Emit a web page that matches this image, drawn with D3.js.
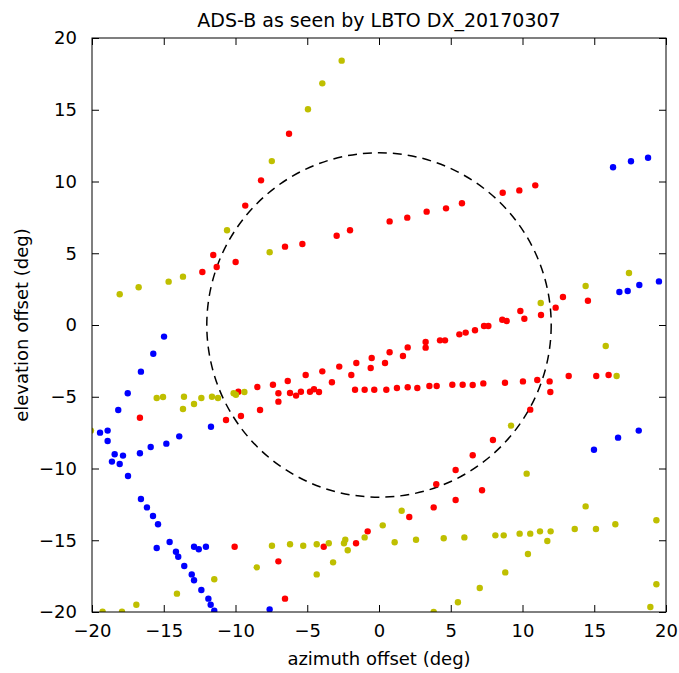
<!DOCTYPE html>
<html>
<head>
<meta charset="utf-8">
<script src="https://cdn.jsdelivr.net/npm/d3@7"></script>
<style>
  body { margin: 0; background: #fff; }
  text { font-family: "DejaVu Sans", sans-serif; fill: #000; }
</style>
</head>
<body>
<svg width="679" height="673"></svg>
<script>
// ADS-B positions, [azimuth offset, elevation offset] in deg
const redPts = [
  [-11.55,4.88],[-9.32,8.32],[-8.22,10.08],[-6.27,13.33],
  [-12.31,3.69],[-11.31,4.04],[-9.99,4.39],[-6.55,5.46],[-5.34,5.64],[-2.95,6.22],[-2.02,6.6],
  [0.74,7.22],[1.97,7.48],[3.32,7.9],[4.67,8.13],[5.78,8.48],[8.62,9.22],[9.78,9.38],[10.89,9.73],
  [-16.66,-6.46],[-10.66,-6.62],[-9.62,-6.34],[-8.29,-5.92],[-9.8,-4.65],[-8.48,-4.32],[-7.39,-4.16],
  [-7.01,-4.76],[-7.01,-5.34],[-6.36,-3.9],[-6.2,-4.74],[-5.78,-4.92],[-5.44,-4.65],[-5.11,-3.48],
  [-4.81,-4.65],[-4.53,-4.48],[-4.18,-4.67],[-3.95,-3.23],[-3.28,-3.99],[-2.77,-2.9],[-1.93,-3.48],
  [-1.58,-2.65],[-1.67,-4.51],[-1.0,-4.51],[-0.51,-2.3],[-0.58,-3.0],[-0.33,-4.51],[0.42,-2.65],
  [0.51,-4.51],[0.74,-1.9],[1.25,-4.39],[1.67,-2.16],[2.0,-1.56],[2.0,-4.34],[2.67,-4.39],
  [3.25,-1.18],[3.25,-1.58],[3.51,-4.25],[4.02,-4.25],[4.25,-1.07],[4.6,-1.07],[5.11,-4.16],
  [5.6,-0.65],[6.04,-0.53],[5.83,-4.16],[6.69,-0.37],[7.32,-0.07],[7.62,-0.07],[8.59,0.37],
  [8.9,0.28],[9.85,0.98],[10.13,0.44],[11.29,0.7],[12.31,1.21],[12.82,1.95],[14.56,1.69],
  [6.53,-4.18],[7.27,-4.07],[8.78,-4.02],[10.03,-3.93],[11.03,-3.83],[11.89,-3.93],[11.94,-4.67],
  [13.22,-3.55],[15.14,-3.55],[16.0,-3.48],
  [10.54,-5.9],[7.94,-8.01],[6.53,-9.08],[5.34,-10.1],[3.99,-11.1],[7.18,-11.52],[5.34,-12.2],
  [3.81,-12.71],[2.11,-13.38],[-0.79,-14.38],[-1.6,-15.21],[-3.85,-15.45],[-7.01,-16.47],
  [-6.55,-19.07],[-10.06,-15.45]
];

const yellowPts = [
  [-2.6,18.42],[-3.95,16.84],[-4.95,15.03],[-7.47,11.42],[-10.59,6.6],[-7.62,5.07],
  [-13.66,3.37],[-14.66,3.02],[-16.75,2.63],[-18.07,2.14],
  [-15.49,-5.09],[-15.05,-5.02],[-13.59,-5.0],[-12.89,-5.51],[-13.66,-5.85],[-12.38,-5.09],
  [-11.64,-5.0],[-11.22,-5.09],[-10.13,-4.76],[-9.97,-4.86],[-9.38,-4.67],
  [11.27,1.53],[14.4,2.72],[17.42,3.62],[15.8,-1.46],[16.56,-3.55],
  [-20.07,-7.36],
  [-7.46,-15.38],[-8.52,-16.89],[-11.48,-17.72],[-14.08,-18.72],[-16.91,-19.49],[-17.91,-19.98],[-19.26,-19.98],
  [-6.2,-15.28],[-5.28,-15.38],[-4.34,-15.28],[-3.5,-15.21],[-4.34,-17.38],[-3.2,-16.54],
  [-2.44,-15.21],[-2.35,-14.96],[-2.18,-15.7],[-1.0,-14.8],[0.26,-13.96],[1.09,-15.14],
  [1.58,-12.94],[2.58,-14.96],[4.51,-14.86],[5.95,-14.8],[3.81,-20.0],[5.5,-19.32],
  [9.2,-7.01],[10.29,-10.36],[14.4,-12.64],[19.33,-13.61],[8.11,-14.66],[8.69,-14.66],
  [9.8,-14.54],[10.54,-14.54],[11.22,-14.38],[11.96,-14.38],[11.73,-15.05],[13.64,-14.22],
  [15.12,-14.22],[16.47,-13.89],[10.38,-15.96],[8.8,-17.24],[7.02,-18.33],[19.33,-18.07],[18.91,-19.65]
];

const bluePts = [
  [16.31,10.99],[17.56,11.41],[18.75,11.66],
  [-14.98,-0.81],[-15.73,-2.0],[-16.59,-3.25],[-17.51,-4.76],[-18.17,-5.92],
  [16.75,2.3],[17.33,2.37],[18.14,2.79],[19.51,3.04],
  [-19.44,-7.5],[-18.91,-7.36],[-18.91,-8.08],[-18.42,-9.01],[-17.84,-9.1],[-18.61,-9.52],
  [-18.07,-9.69],[-17.49,-10.52],[-16.66,-8.94],[-15.91,-8.5],[-14.82,-8.27],[-13.92,-7.76],[-11.71,-7.09],
  [-16.59,-12.13],[-16.17,-12.71],[-15.75,-13.31],[-15.4,-13.89],[-14.59,-15.12],[-15.49,-15.54],
  [-14.15,-15.8],[-13.99,-16.15],[-13.57,-16.79],[-13.05,-17.38],[-12.89,-17.79],[-12.38,-18.47],
  [-11.89,-19.07],[-11.73,-19.49],[-11.48,-19.91],[-12.89,-15.45],[-12.56,-15.63],[-12.06,-15.45],
  [-7.62,-19.82],
  [14.98,-8.69],[16.66,-7.85],[18.1,-7.36]
];

const ticks = [-20, -15, -10, -5, 0, 5, 10, 15, 20];
const fovRadius = 12;

const svg = d3.select("svg");
const margin = {left: 92, top: 38, right: 13, bottom: 61};
const w = 679 - margin.left - margin.right,
      h = 673 - margin.top - margin.bottom;

const x = d3.scaleLinear().domain([-20, 20]).range([0, w]);
const y = d3.scaleLinear().domain([-20, 20]).range([h, 0]);

const g = svg.append("g")
  .attr("transform", `translate(${margin.left},${margin.top})`);

g.append("clipPath").attr("id", "clip")
  .append("rect").attr("width", w).attr("height", h);

const fmt = d => String(d).replace("-", "\u2212");

// axes, matplotlib classic: ticks inside on all four sides
const tickLen = 7;
g.append("g").attr("transform", `translate(0,${h})`)
  .call(d3.axisBottom(x).tickValues(ticks).tickSize(-tickLen).tickPadding(tickLen + 5).tickFormat(fmt));
g.append("g")
  .call(d3.axisTop(x).tickValues(ticks).tickSize(-tickLen).tickFormat(""));
g.append("g")
  .call(d3.axisLeft(y).tickValues(ticks).tickSize(-tickLen).tickPadding(tickLen + 8).tickFormat(fmt));
g.append("g").attr("transform", `translate(${w},0)`)
  .call(d3.axisRight(y).tickValues(ticks).tickSize(-tickLen).tickFormat(""));

g.selectAll(".domain").remove();
g.selectAll(".tick line").attr("stroke", "#000");
g.selectAll(".tick text").style("font-size", "18px").attr("fill", "#000");

const plot = g.append("g").attr("clip-path", "url(#clip)");

// field of view circle
plot.append("circle")
  .attr("cx", x(0)).attr("cy", y(0))
  .attr("r", x(fovRadius) - x(0))
  .attr("fill", "none")
  .attr("stroke", "#000")
  .attr("stroke-width", 1.5)
  .attr("stroke-dasharray", "9,6");

const series = [
  {pts: redPts, color: "#ff0000"},
  {pts: yellowPts, color: "#bfbf00"},
  {pts: bluePts, color: "#0000ff"}
];

series.forEach(s => {
  plot.selectAll(null)
    .data(s.pts).enter()
    .append("circle")
      .attr("cx", d => x(d[0]))
      .attr("cy", d => y(d[1]))
      .attr("r", 3.2)
      .attr("fill", s.color);
});

g.append("rect")
  .attr("width", w).attr("height", h)
  .attr("fill", "none").attr("stroke", "#000").attr("stroke-width", 1);

// labels
svg.append("text")
  .attr("x", margin.left + w / 2).attr("y", 27)
  .attr("text-anchor", "middle")
  .style("font-size", "19px")
  .text("ADS-B as seen by LBTO DX_20170307");

svg.append("text")
  .attr("x", margin.left + w / 2).attr("y", 665)
  .attr("text-anchor", "middle")
  .style("font-size", "18px")
  .text("azimuth offset (deg)");

svg.append("text")
  .attr("transform", `translate(28,${margin.top + h / 2}) rotate(-90)`)
  .attr("text-anchor", "middle")
  .style("font-size", "18px")
  .text("elevation offset (deg)");
</script>
</body>
</html>
